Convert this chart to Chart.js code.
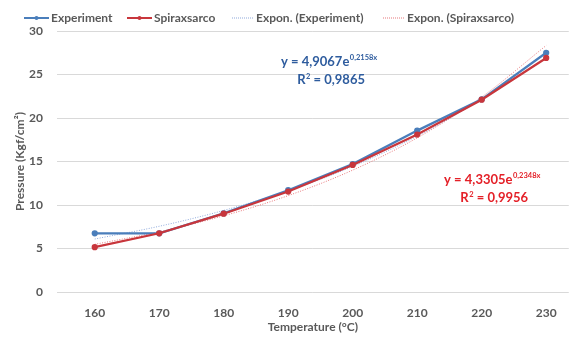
<!DOCTYPE html>
<html>
<head>
<meta charset="utf-8">
<script src="https://cdn.jsdelivr.net/npm/chart.js@4/dist/chart.umd.min.js"></script>
<style>
  html, body { margin: 0; padding: 0; background: #fff; }
  #wrap { width: 573px; height: 338px; }
</style>
</head>
<body>
<div id="wrap"><canvas id="c" width="573" height="338"></canvas></div>
<script>
// Temperatures (°C) and measured pressures (Kgf/cm²)
const temperatures = [160, 170, 180, 190, 200, 210, 220, 230];
const experiment   = [6.74, 6.75, 9.05, 11.7, 14.7, 18.55, 22.15, 27.5];
const spiraxsarco  = [5.15, 6.75, 9.0, 11.55, 14.6, 18.1, 22.1, 26.9];
const pressureTicks = [0, 5, 10, 15, 20, 25, 30];

// Exponential trend coefficients y = a·e^(b·x), x = 1..n (category index)
const expFit = { a: 4.9067, b: 0.2158, r2: '0,9865' };
const spxFit = { a: 4.3305, b: 0.2348, r2: '0,9956' };

const FONT = 'Lato, "Open Sans", sans-serif';
const BLUE = '#4A7EBB', RED = '#C8363C';

function trend(fit) {
  return temperatures.map((t, i) => ({ x: t, y: fit.a * Math.exp(fit.b * (i + 1)) }));
}
function pts(arr) { return temperatures.map((t, i) => ({ x: t, y: arr[i] })); }

// Trend-line equation boxes, anchored in data coordinates
const eqLabels = [
  { fit: expFit, color: '#2E5C9E', x: 196.3, y: 26.4 },
  { fit: spxFit, color: '#E42028', x: 221.6, y: 12.85 }
];

const equationPlugin = {
  id: 'equations',
  afterDatasetsDraw(chart) {
    const ctx = chart.ctx;
    const xs = chart.scales.x, ys = chart.scales.y;
    const big = 'bold 13px ' + FONT, small = 'bold 7.5px ' + FONT;
    eqLabels.forEach(l => {
      const cx = xs.getPixelForValue(l.x);
      const cy = ys.getPixelForValue(l.y);
      const fmt = v => v.toFixed(4).replace('.', ',');
      const main = 'y = ' + fmt(l.fit.a) + 'e';
      const sup = fmt(l.fit.b) + 'x';
      ctx.save();
      ctx.fillStyle = l.color;
      ctx.textBaseline = 'alphabetic';
      ctx.textAlign = 'left';
      ctx.font = big;
      const wm = ctx.measureText(main).width;
      ctx.font = small;
      const ws = ctx.measureText(sup).width;
      const x0 = cx - (wm + ws) / 2;
      ctx.font = big;
      ctx.fillText(main, x0, cy + 4);
      ctx.font = small;
      ctx.fillText(sup, x0 + wm + 0.5, cy - 2);
      // R² line
      ctx.font = big;
      const r1 = 'R', r3 = ' = ' + l.fit.r2;
      const w1 = ctx.measureText(r1).width, w3 = ctx.measureText(r3).width;
      ctx.font = small;
      const w2 = ctx.measureText('2').width;
      const rx = cx - (w1 + w2 + w3) / 2 + 2;
      const ry = cy + 22;
      ctx.font = big;
      ctx.fillText(r1, rx, ry);
      ctx.font = small;
      ctx.fillText('2', rx + w1 + 0.5, ry - 5);
      ctx.font = big;
      ctx.fillText(r3, rx + w1 + w2 + 0.5, ry);
      ctx.restore();
    });
  }
};

// Legend drawn in the style of the spreadsheet legend (line + marker / dotted line)
const legendPlugin = {
  id: 'sheetLegend',
  afterDraw(chart) {
    const ctx = chart.ctx;
    const y = 18;
    const items = [
      { ds: 0, x: 24, len: 25, marker: true },
      { ds: 1, x: 127, len: 25, marker: true },
      { ds: 2, x: 232, len: 22, marker: false },
      { ds: 3, x: 383, len: 22, marker: false }
    ];
    ctx.save();
    items.forEach(it => {
      const ds = chart.data.datasets[it.ds];
      ctx.strokeStyle = ds.borderColor;
      ctx.lineWidth = it.marker ? 2 : 1;
      ctx.setLineDash(it.marker ? [] : [1, 1]);
      ctx.beginPath();
      ctx.moveTo(it.x, y);
      ctx.lineTo(it.x + it.len, y);
      ctx.stroke();
      if (it.marker) {
        ctx.fillStyle = ds.borderColor;
        ctx.beginPath();
        ctx.arc(it.x + it.len / 2, y, 2, 0, Math.PI * 2);
        ctx.fill();
      }
      ctx.setLineDash([]);
      ctx.fillStyle = '#595959';
      ctx.font = 'bold 12px ' + FONT;
      ctx.textAlign = 'left';
      ctx.textBaseline = 'middle';
      ctx.fillText(ds.label, it.x + it.len + 2, y);
    });
    ctx.restore();
  }
};

new Chart(document.getElementById('c'), {
  type: 'line',
  data: {
    datasets: [
      { label: 'Experiment', data: pts(experiment), borderColor: BLUE, backgroundColor: BLUE,
        borderWidth: 2.25, pointRadius: 2, pointHoverRadius: 2, order: 1 },
      { label: 'Spiraxsarco', data: pts(spiraxsarco), borderColor: RED, backgroundColor: RED,
        borderWidth: 2.25, pointRadius: 2, pointHoverRadius: 2, order: 0 },
      { label: 'Expon. (Experiment)', data: trend(expFit), borderColor: '#8FAADC',
        borderWidth: 1, borderDash: [1, 1.5], pointRadius: 0, cubicInterpolationMode: 'monotone', order: 2 },
      { label: 'Expon. (Spiraxsarco)', data: trend(spxFit), borderColor: '#E8787C',
        borderWidth: 1, borderDash: [1, 1.5], pointRadius: 0, cubicInterpolationMode: 'monotone', order: 3 }
    ]
  },
  options: {
    responsive: false,
    animation: false,
    layout: { padding: { top: 31, right: 0, left: 9, bottom: 0 } },
    plugins: { legend: { display: false }, tooltip: { enabled: false } },
    scales: {
      x: {
        type: 'linear',
        min: 154.15,
        max: 233.5,
        afterBuildTicks: s => { s.ticks = temperatures.map(v => ({ value: v })); },
        afterFit: s => { s.height = 46; },
        grid: { display: false },
        border: { display: false },
        ticks: { color: '#595959', font: { family: FONT, size: 12, weight: 'bold' }, padding: 6, maxRotation: 0 },
        title: { display: true, text: 'Temperature (°C)', color: '#595959',
                 font: { family: FONT, size: 12, weight: 'bold' }, padding: { top: 6 } }
      },
      y: {
        min: 0,
        max: 30,
        afterBuildTicks: s => { s.ticks = pressureTicks.map(v => ({ value: v })); },
        afterFit: s => { s.width = 48; },
        grid: { color: '#D9D9D9', lineWidth: 1, drawTicks: false },
        border: { display: false },
        ticks: { color: '#595959', font: { family: FONT, size: 12, weight: 'bold' }, padding: 14 },
        title: { display: true, text: 'Pressure (Kgf/cm²)', color: '#595959',
                 font: { family: FONT, size: 12, weight: 'bold' }, padding: { bottom: 0 } }
      }
    }
  },
  plugins: [equationPlugin, legendPlugin]
});
</script>
</body>
</html>
